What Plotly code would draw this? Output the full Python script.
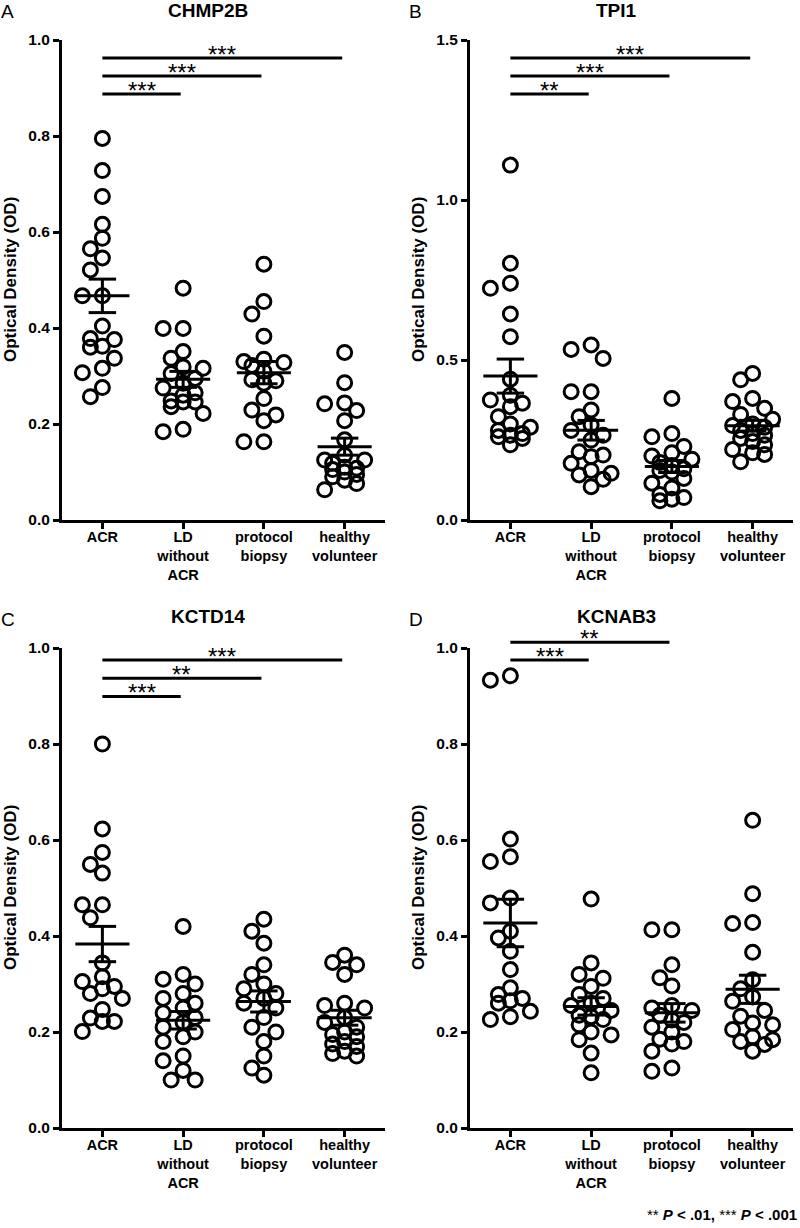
import numpy as np
import plotly.graph_objects as go

# ---------------- data ----------------
categories = ["ACR", "LD<br>without<br>ACR", "protocol<br>biopsy", "healthy<br>volunteer"]

chmp2b_acr = [0.795, 0.728, 0.674, 0.616, 0.587, 0.565, 0.546, 0.521, 0.467, 0.467,
              0.404, 0.378, 0.376, 0.362, 0.360, 0.337, 0.316, 0.307, 0.276, 0.257]
chmp2b_ld = [0.483, 0.399, 0.399, 0.351, 0.337, 0.319, 0.316, 0.305, 0.295, 0.285,
             0.275, 0.265, 0.260, 0.248, 0.246, 0.246, 0.236, 0.222, 0.189, 0.184]
chmp2b_pb = [0.533, 0.455, 0.429, 0.383, 0.335, 0.330, 0.328, 0.322, 0.310, 0.292,
             0.290, 0.285, 0.253, 0.229, 0.219, 0.207, 0.163, 0.163]
chmp2b_hv = [0.349, 0.286, 0.244, 0.242, 0.228, 0.207, 0.167, 0.135, 0.125, 0.125,
             0.118, 0.110, 0.108, 0.105, 0.100, 0.095, 0.090, 0.083, 0.076, 0.063]

tpi1_acr = [1.109, 0.802, 0.740, 0.724, 0.644, 0.573, 0.440, 0.390, 0.375, 0.365,
            0.354, 0.323, 0.300, 0.290, 0.280, 0.270, 0.265, 0.260, 0.255, 0.235]
tpi1_ld = [0.547, 0.533, 0.505, 0.401, 0.401, 0.344, 0.323, 0.297, 0.280, 0.265,
           0.250, 0.213, 0.203, 0.198, 0.177, 0.155, 0.146, 0.141, 0.127, 0.104]
tpi1_pb = [0.380, 0.270, 0.260, 0.230, 0.210, 0.200, 0.190, 0.180, 0.170, 0.160,
           0.155, 0.150, 0.130, 0.115, 0.100, 0.080, 0.070, 0.065, 0.060]
tpi1_hv = [0.458, 0.438, 0.380, 0.370, 0.349, 0.330, 0.315, 0.300, 0.295, 0.290,
           0.280, 0.270, 0.265, 0.255, 0.245, 0.235, 0.220, 0.210, 0.205, 0.182]

kctd14_acr = [0.800, 0.623, 0.574, 0.549, 0.531, 0.465, 0.465, 0.438, 0.344, 0.315,
              0.305, 0.295, 0.290, 0.280, 0.270, 0.247, 0.229, 0.222, 0.222, 0.201]
kctd14_ld = [0.420, 0.320, 0.310, 0.300, 0.280, 0.270, 0.260, 0.250, 0.240, 0.230,
             0.220, 0.210, 0.200, 0.190, 0.180, 0.150, 0.140, 0.120, 0.100, 0.100]
kctd14_pb = [0.435, 0.410, 0.385, 0.340, 0.320, 0.300, 0.290, 0.280, 0.270, 0.260,
             0.250, 0.230, 0.210, 0.200, 0.180, 0.150, 0.125, 0.110]
kctd14_hv = [0.360, 0.345, 0.340, 0.320, 0.260, 0.255, 0.250, 0.230, 0.220, 0.210,
             0.200, 0.195, 0.190, 0.180, 0.175, 0.170, 0.160, 0.155, 0.150]

kcnab3_acr = [0.942, 0.933, 0.602, 0.565, 0.555, 0.479, 0.469, 0.410, 0.396, 0.368,
              0.330, 0.292, 0.278, 0.270, 0.265, 0.260, 0.243, 0.232, 0.226]
kcnab3_ld = [0.477, 0.344, 0.320, 0.312, 0.295, 0.278, 0.270, 0.260, 0.255, 0.245,
             0.235, 0.232, 0.226, 0.215, 0.200, 0.194, 0.184, 0.156, 0.115]
kcnab3_pb = [0.413, 0.413, 0.340, 0.313, 0.296, 0.255, 0.250, 0.245, 0.235, 0.225,
             0.220, 0.210, 0.200, 0.185, 0.180, 0.175, 0.160, 0.125, 0.118]
kcnab3_hv = [0.641, 0.488, 0.428, 0.426, 0.366, 0.309, 0.290, 0.273, 0.264, 0.245,
             0.233, 0.219, 0.215, 0.205, 0.190, 0.184, 0.180, 0.174, 0.160]

panel_letters = ["A", "B", "C", "D"]
panel_titles = ["CHMP2B", "TPI1", "KCTD14", "KCNAB3"]
panel_data = [
    [chmp2b_acr, chmp2b_ld, chmp2b_pb, chmp2b_hv],
    [tpi1_acr, tpi1_ld, tpi1_pb, tpi1_hv],
    [kctd14_acr, kctd14_ld, kctd14_pb, kctd14_hv],
    [kcnab3_acr, kcnab3_ld, kcnab3_pb, kcnab3_hv],
]
panel_ymax = [1.0, 1.5, 1.0, 1.0]
# significance comparisons: (target group, label, y level)
panel_sig = [
    [(1, "***", 0.8875), (2, "***", 0.925), (3, "***", 0.9625)],
    [(1, "**", 1.331), (2, "***", 1.3875), (3, "***", 1.444)],
    [(1, "***", 0.899), (2, "**", 0.937), (3, "***", 0.975)],
    [(1, "***", 0.975), (2, "**", 1.012)],
]
footnote = "** <b><i>P</i> &lt; .01,</b> *** <b><i>P</i> &lt; .001</b>"

# ---------------- geometry ----------------
W, H = 800, 1228
FONT = "Liberation Sans, Arial, Helvetica, sans-serif"
x_px = [(62, 385), (470, 793), (62, 385), (470, 793)]
y_px = [(40, 520), (40, 520), (648, 1128), (648, 1128)]
title_gap = [30, 30, 32, 32]
XR = (-0.5, 3.5)
PX_PER_CAT = (385 - 62) / (XR[1] - XR[0])


def swarm(vals, px_per_unit):
    """simple beeswarm: returns horizontal offsets in category units"""
    diam = 13.5
    cands = [0, -12, 12, -20, 20]
    order = sorted(range(len(vals)), key=lambda i: -vals[i])
    placed = []
    offs = [0.0] * len(vals)
    for i in order:
        yy = vals[i] * px_per_unit
        best, bestd, chosen = 0, -1, None
        for c in cands:
            d = min([np.hypot(c - px, yy - py) for px, py in placed] or [1e9])
            if d >= diam:
                chosen = c
                break
            if d > bestd and abs(c) <= 12:
                best, bestd = c, d
        if chosen is None:
            chosen = best
        placed.append((chosen, yy))
        offs[i] = chosen / PX_PER_CAT
    return offs


fig = go.Figure()
layout_axes = {}
annotations = []
shapes = []

for p in range(4):
    sfx = "" if p == 0 else str(p + 1)
    xa, ya = "x" + sfx, "y" + sfx
    ymax = panel_ymax[p]
    px_per_unit = 480.0 / ymax
    x0, x1 = x_px[p]
    yt, yb = y_px[p]
    dx0, dx1 = x0 / W, min(x1 / W, 1.0)
    dy0, dy1 = 1 - yb / H, 1 - yt / H

    def to_paper(xv, yv):
        # data -> paper coordinates via this panel's linear axes
        return (x0 / W + (xv - XR[0]) * PX_PER_CAT / W,
                dy0 + (yv / ymax) * (dy1 - dy0))

    for g, vals in enumerate(panel_data[p]):
        offs = swarm(vals, px_per_unit)
        fig.add_trace(go.Scatter(
            x=[g + o for o in offs], y=vals, mode="markers", xaxis=xa, yaxis=ya,
            marker=dict(symbol="circle-open", size=14, color="black",
                        line=dict(width=3, color="black")),
            showlegend=False, cliponaxis=False, hoverinfo="y"))
        m = float(np.mean(vals))
        se = float(np.std(vals, ddof=1) / np.sqrt(len(vals)))
        lx = [g - 0.335, g + 0.335, None,
              g, g, None,
              g - 0.17, g + 0.17, None,
              g - 0.17, g + 0.17]
        ly = [m, m, None,
              m - se, m + se, None,
              m + se, m + se, None,
              m - se, m - se]
        fig.add_trace(go.Scatter(
            x=lx, y=ly, mode="lines", xaxis=xa, yaxis=ya,
            line=dict(color="black", width=3), showlegend=False,
            hoverinfo="skip", cliponaxis=False))

    # significance bars (paper coordinates derived from axis mapping)
    for tgt, lab, yl in panel_sig[p]:
        ax0, ay = to_paper(0, yl)
        ax1, _ = to_paper(tgt - 0.03, yl)
        shapes.append(dict(type="line", xref="paper", yref="paper",
                           x0=ax0, x1=ax1, y0=ay, y1=ay,
                           line=dict(color="black", width=3)))
        # compact text box: asterisks sit in the upper part of the line box
        annotations.append(dict(
            x=(ax0 + ax1) / 2.0, y=ay, xref="paper", yref="paper", text=lab,
            showarrow=False, yanchor="bottom", xanchor="center", yshift=2,
            height=14, valign="top", borderpad=0,
            font=dict(family=FONT, size=24, color="black")))

    layout_axes["xaxis" + sfx] = dict(
        domain=[dx0, dx1], anchor=ya, automargin=False,
        range=[XR[0], XR[0] + (dx1 - dx0) * W / PX_PER_CAT],
        tickvals=[0, 1, 2, 3], ticktext=categories, showline=True,
        linecolor="black", linewidth=3, ticks="outside", ticklen=6,
        tickwidth=3, tickcolor="black", showgrid=False, zeroline=False,
        ticklabelstandoff=-4,
        tickfont=dict(family=FONT, size=14.5, color="black", weight="bold"))
    if ymax == 1.5:
        tv = [0, 0.5, 1.0, 1.5]
    else:
        tv = [0, 0.2, 0.4, 0.6, 0.8, 1.0]
    layout_axes["yaxis" + sfx] = dict(
        domain=[dy0, dy1], anchor=xa, range=[0, ymax], automargin=False,
        tickvals=tv, tickformat=".1f", showline=True, linecolor="black",
        linewidth=3, ticks="outside", ticklen=6, tickwidth=3,
        tickcolor="black", showgrid=False, zeroline=False,
        tickfont=dict(family=FONT, size=15.5, color="black", weight="bold"))

    # y title
    annotations.append(dict(
        x=(x0 - 52) / W, y=1 - ((yt + yb) / 2) / H, xref="paper", yref="paper",
        text="<b>Optical Density (OD)</b>", textangle=-90, showarrow=False,
        xanchor="center", yanchor="middle",
        font=dict(family=FONT, size=17, color="black")))
    # panel title (compact box: caps only, no descenders)
    annotations.append(dict(
        x=(x0 + 146) / W, y=1 - (yt - title_gap[p]) / H, xref="paper",
        yref="paper", text="<b>" + panel_titles[p] + "</b>", showarrow=False,
        xanchor="center", yanchor="middle", height=16, valign="middle",
        borderpad=0,
        font=dict(family=FONT, size=19, color="black")))
    # panel letter
    annotations.append(dict(
        x=(x0 - 62) / W, y=1 - (yt - 29) / H, xref="paper", yref="paper",
        text=panel_letters[p], showarrow=False, xanchor="left", yanchor="middle",
        height=16, valign="middle", borderpad=0,
        font=dict(family=FONT, size=19, color="black")))

annotations.append(dict(
    x=799 / W, y=1 - 1214 / H, xref="paper", yref="paper", text=footnote,
    showarrow=False, xanchor="right", yanchor="middle",
    font=dict(family=FONT, size=15, color="black")))

fig.update_layout(
    width=W, height=H, margin=dict(l=0, r=0, t=0, b=0, pad=0, autoexpand=False),
    paper_bgcolor="white", plot_bgcolor="white",
    font=dict(family=FONT, color="black"),
    annotations=annotations, shapes=shapes, showlegend=False, **layout_axes)

fig.write_html(
    "out.html",
    config={"displayModeBar": False},
    post_script="document.body.style.margin='0';"
                "document.documentElement.style.overflow='hidden';")
